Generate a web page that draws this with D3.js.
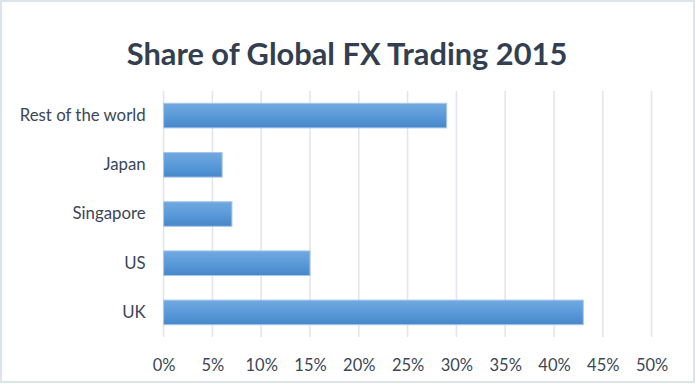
<!DOCTYPE html>
<html>
<head>
<meta charset="utf-8">
<script src="https://cdn.jsdelivr.net/npm/d3@7"></script>
<style>
  body { margin: 0; background: #fff; }
  svg { display: block; }
</style>
</head>
<body>
<script>
// data
const categories = ["UK", "US", "Singapore", "Japan", "Rest of the world"];
const shares = [43, 15, 7, 6, 29];
const tickValues = [0, 5, 10, 15, 20, 25, 30, 35, 40, 45, 50];
const title = "Share of Global FX Trading 2015";

const width = 696;
const height = 384;
const plot = { left: 163.6, right: 651.6, top: 91, bottom: 337 };

const textColor = "#3b4658";
const fontFam = "Lato, 'Open Sans', sans-serif";

let svg = d3.select("body")
    .append("svg")
        .attr("width", width)
        .attr("height", height);

// outer border
svg.append("rect")
    .attr("x", 1)
    .attr("y", 1)
    .attr("width", width - 3)
    .attr("height", height - 3)
    .attr("fill", "#fff")
    .attr("stroke", "#dde3ea")
    .attr("stroke-width", 2);

const defs = svg.append("defs");
const grad = defs.append("linearGradient")
    .attr("id", "barGrad")
    .attr("x1", 0).attr("y1", 0)
    .attr("x2", 0).attr("y2", 1);
grad.append("stop").attr("offset", "0%").attr("stop-color", "#71a9e0");
grad.append("stop").attr("offset", "50%").attr("stop-color", "#5b9ad9");
grad.append("stop").attr("offset", "100%").attr("stop-color", "#4687ca");

const xScale = d3.scaleLinear()
    .domain([0, 50])
    .range([plot.left, plot.right]);

// categories listed bottom-up like the chart
const yScale = d3.scaleBand()
    .domain(categories.slice().reverse())
    .range([plot.top, plot.bottom])
    .paddingInner(0.5)
    .paddingOuter(0.25);

// title
svg.append("text")
    .attr("x", 347)
    .attr("y", 65)
    .attr("text-anchor", "middle")
    .attr("font-family", fontFam)
    .attr("font-weight", "bold")
    .attr("font-size", 30.8)
    .attr("fill", "#333f50")
    .text(title);

// gridlines
svg.append("g")
    .selectAll("line")
    .data(tickValues)
    .enter()
        .append("line")
            .attr("x1", d => xScale(d))
            .attr("x2", d => xScale(d))
            .attr("y1", plot.top)
            .attr("y2", plot.bottom)
            .attr("stroke", "#e1e5eb")
            .attr("stroke-width", 1.5);

// x axis labels
const xAxis = svg.append("g")
    .attr("transform", `translate(0, ${plot.bottom})`)
    .call(d3.axisBottom(xScale)
        .tickValues(tickValues)
        .tickFormat(d => d + "%")
        .tickSize(0)
        .tickPadding(22));
xAxis.select(".domain").remove();
xAxis.selectAll("text")
    .attr("font-family", fontFam)
    .attr("font-size", 16.5)
    .attr("fill", textColor);

// y axis labels
const yAxis = svg.append("g")
    .attr("transform", `translate(${plot.left}, 0)`)
    .call(d3.axisLeft(yScale)
        .tickSize(0)
        .tickPadding(18));
yAxis.select(".domain").remove();
yAxis.selectAll("text")
    .attr("font-family", fontFam)
    .attr("font-size", 16.8)
    .attr("fill", textColor);

// bars
svg.append("g")
    .selectAll("rect")
    .data(categories)
    .enter()
        .append("rect")
            .attr("x", xScale(0))
            .attr("y", (d) => yScale(d))
            .attr("width", (d, i) => xScale(shares[i]) - xScale(0))
            .attr("height", yScale.bandwidth())
            .attr("fill", "url(#barGrad)")
            .attr("stroke", "#a8c6ea")
            .attr("stroke-width", 1);
</script>
</body>
</html>
